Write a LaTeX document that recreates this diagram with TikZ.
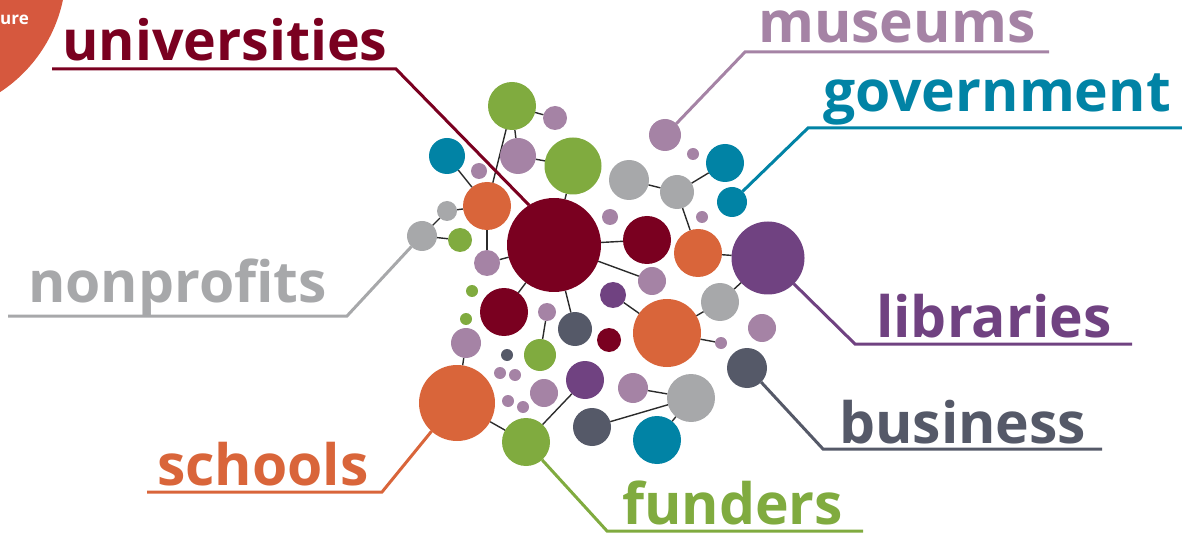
\documentclass[tikz,border=0pt]{standalone}
\usepackage{fontspec}
\setmainfont{Open Sans}
\usetikzlibrary{backgrounds}
\definecolor{cMaroon}{HTML}{7A0020}
\definecolor{cGreen}{HTML}{80AB3F}
\definecolor{cMauve}{HTML}{A583A5}
\definecolor{cTeal}{HTML}{0183A5}
\definecolor{cOrange}{HTML}{D9653A}
\definecolor{cGray}{HTML}{A7A8AA}
\definecolor{cPurple}{HTML}{704281}
\definecolor{cSlate}{HTML}{555968}
\definecolor{cLink}{HTML}{2B2B2B}
\definecolor{cBadge}{HTML}{D6583E}
\newcommand\Bub[5]{\node[bubble,fill=#5,minimum size=#4] (#1) at (#2,#3) {};}
\begin{document}
\begin{tikzpicture}[x=1pt,y=-1pt,
  bubble/.style={circle,inner sep=0pt,outer sep=0pt,draw=none},
  link/.style={line width=1.4pt,draw=cLink},
  lead/.style={line width=3pt},
  lbl/.style={anchor=base west,inner sep=0pt,font=\fontsize{57}{60}\selectfont\bfseries}]
\useasboundingbox (0,0) rectangle (1182,534);
\clip (0,0) rectangle (1182,534);
% corner badge
\fill[cBadge] (-80,-30) circle (146);
\node[anchor=base east,inner sep=0pt,text=white,font=\fontsize{17}{20}\selectfont\bfseries] (badge) at (29,25) {ure};
% bubbles (name, x, y, diameter, colour)
\Bub{g1}{512}{106}{48}{cGreen}
\Bub{m1}{555}{118}{24}{cMauve}
\Bub{m2}{518}{156}{36}{cMauve}
\Bub{g2}{573}{166}{57}{cGreen}
\Bub{t1}{447}{156}{36}{cTeal}
\Bub{m3}{479}{171}{16}{cMauve}
\Bub{o1}{487}{206}{48}{cOrange}
\Bub{gr1}{447}{211}{20}{cGray}
\Bub{gr2}{422}{236}{30}{cGray}
\Bub{g3}{460}{240}{24}{cGreen}
\Bub{M0}{554}{245}{94}{cMaroon}
\Bub{m4}{665}{135}{32}{cMauve}
\Bub{m5}{693}{154}{12}{cMauve}
\Bub{t2}{725}{163}{38}{cTeal}
\Bub{t3}{732}{202}{30}{cTeal}
\Bub{gr3}{629}{180}{40}{cGray}
\Bub{gr4}{677}{192}{34}{cGray}
\Bub{m6}{610}{217}{16}{cMauve}
\Bub{m7}{702}{217}{12}{cMauve}
\Bub{M1}{647}{240}{48}{cMaroon}
\Bub{o2}{698}{253}{48}{cOrange}
\Bub{p1}{768}{258}{73}{cPurple}
\Bub{m8}{652}{281}{28}{cMauve}
\Bub{p2}{613}{295}{26}{cPurple}
\Bub{gr5}{720}{302}{38}{cGray}
\Bub{m9}{487}{263}{26}{cMauve}
\Bub{g4}{472}{291}{12}{cGreen}
\Bub{g5}{466}{319}{12}{cGreen}
\Bub{M2}{504}{312}{48}{cMaroon}
\Bub{m10}{547}{312}{18}{cMauve}
\Bub{s1}{575}{329}{34}{cSlate}
\Bub{m11}{466}{343}{30}{cMauve}
\Bub{s2}{507}{355}{12}{cSlate}
\Bub{g6}{540}{355}{32}{cGreen}
\Bub{m12}{500}{373}{12}{cMauve}
\Bub{m13}{515}{375}{12}{cMauve}
\Bub{o3}{457}{403}{76}{cOrange}
\Bub{m14}{544}{393}{28}{cMauve}
\Bub{m15}{508}{401}{12}{cMauve}
\Bub{m16}{523}{407}{12}{cMauve}
\Bub{p3}{585}{380}{38}{cPurple}
\Bub{g7}{526}{442}{48}{cGreen}
\Bub{M3}{609}{340}{24}{cMaroon}
\Bub{o4}{667}{333}{68}{cOrange}
\Bub{m17}{721}{343}{12}{cMauve}
\Bub{m18}{762}{328}{28}{cMauve}
\Bub{s3}{747}{368}{40}{cSlate}
\Bub{m19}{633}{388}{30}{cMauve}
\Bub{gr6}{691}{398}{48}{cGray}
\Bub{s4}{592}{427}{38}{cSlate}
\Bub{t4}{657}{440}{48}{cTeal}
% connectors
\begin{scope}[on background layer]
\foreach \a/\b in {g1/m1,g1/m2,g1/o1,m2/g2,t1/o1,gr1/o1,gr2/gr1,gr2/g3,o1/m9,m9/M0,g2/M0,M0/M1,M0/m8,M0/M2,M0/s1,gr3/gr4,gr4/t2,gr4/o2,o2/p1,gr5/p1,p2/o4,o4/gr5,o4/m17,m10/g6,m11/o3,o3/g7,p3/g7,m19/gr6,s4/gr6,gr6/t4}
  \draw[link] (\a) -- (\b);
\end{scope}
% labels
\node[lbl,text=cMaroon,font=\fontsize{55.5}{60}\selectfont\bfseries] (Luni) at (62,61) {universities};
\node[lbl,text=cMauve] (Lmus) at (758,43) {museums};
\node[lbl,text=cTeal] (Lgov) at (823,112) {government};
\node[lbl,text=cGray] (Lnon) at (28,302) {nonprofits};
\node[lbl,text=cPurple] (Llib) at (876,337) {libraries};
\node[lbl,text=cSlate] (Lbus) at (839,443) {business};
\node[lbl,text=cOrange] (Lsch) at (157,485) {schools};
\node[lbl,text=cGreen,text depth=0pt] (Lfun) at (622,524) {funders};
% leaders
\coordinate (uA) at (52,69);   \coordinate (uB) at (396,69);
\coordinate (muA) at (1049,52); \coordinate (muB) at (745,52);
\coordinate (goA) at (1182,128); \coordinate (goB) at (808,128);
\coordinate (noA) at (8,316);  \coordinate (noB) at (347,316);
\coordinate (liA) at (1132,344); \coordinate (liB) at (855,344);
\coordinate (buA) at (1102,449); \coordinate (buB) at (823,449);
\coordinate (scA) at (147,492); \coordinate (scB) at (382,492);
\coordinate (fuA) at (863,531); \coordinate (fuB) at (607,531);
\draw[lead,cMaroon] (uA) -- (uB) -- (M0.122);
\draw[lead,cMauve] (muA) -- (muB) -- (m4.45);
\draw[lead,cTeal] (goA) -- (goB) -- (t3.45);
\draw[lead,cGray] (noA) -- (noB) -- (gr2.225);
\draw[lead,cPurple] (liA) -- (liB) -- (p1.-45);
\draw[lead,cSlate] (buA) -- (buB) -- (s3.-45);
\draw[lead,cOrange] (scA) -- (scB) -- (o3.228);
\draw[lead,cGreen] (fuA) -- (fuB) -- (g7.-48);
\end{tikzpicture}
\end{document}
